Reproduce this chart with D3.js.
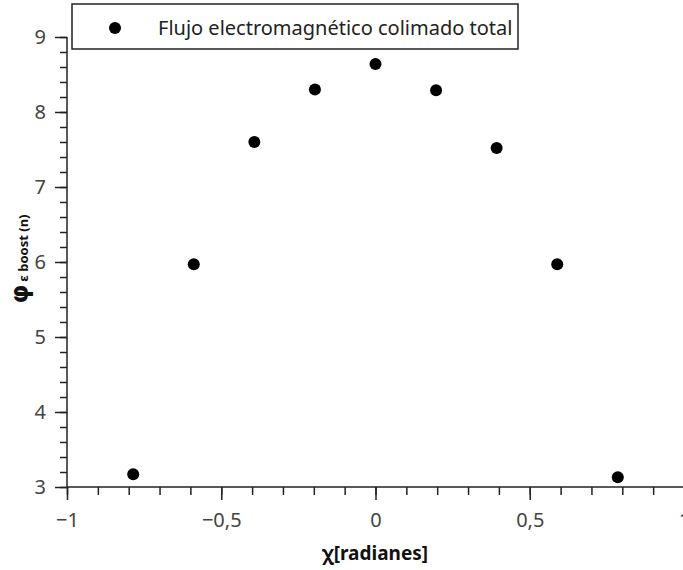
<!DOCTYPE html>
<html>
<head>
<meta charset="utf-8">
<script src="https://cdn.jsdelivr.net/npm/d3@7"></script>
<style>
  body { margin: 0; background: #fff; }
  text { font-family: "Noto Sans", "Open Sans", sans-serif; }
</style>
</head>
<body>
<svg id="chart" width="683" height="570"></svg>
<script>
// Data: x in steps of pi/16
const xValues = [-4, -3, -2, -1, 0, 1, 2, 3, 4].map(k => k * Math.PI / 16);
const yValues = [3.17, 5.97, 7.60, 8.30, 8.64, 8.29, 7.52, 5.97, 3.13];
const xTickValues = [-1, -0.5, 0, 0.5, 1];
const yTickValues = [3, 4, 5, 6, 7, 8, 9];
const seriesName = 'Flujo electromagnético colimado total';

const svg = d3.select('#chart');
const tickColor = '#444';

const x = d3.scaleLinear().domain([-1, 1]).range([67, 684]);
const y = d3.scaleLinear().domain([3, 9]).range([487, 37]);

const fmt = d => d3.format('')(d).replace('-', '\u2212').replace('.', ',');

// minor ticks first, then the major ones on top
const xMinor = d3.range(-10, 11).map(i => i / 10);
const yMinor = d3.range(15, 46).map(i => i / 5);

const xAxisG = svg.append('g').attr('transform', `translate(0,${y(3)})`);
xAxisG.call(d3.axisBottom(x).tickValues(xMinor).tickSize(8).tickFormat(''));
xAxisG.selectAll('.tick line').attr('stroke', '#222').attr('stroke-width', 1.5);
xAxisG.select('.domain').attr('stroke', '#222').attr('stroke-width', 1.5).attr('d', `M${x(-1)},0H${683}`);
const xMajorG = svg.append('g').attr('transform', `translate(0,${y(3)})`);
xMajorG.call(d3.axisBottom(x).tickValues(xTickValues).tickSize(13).tickPadding(13).tickFormat(fmt));
xMajorG.select('.domain').remove();
xMajorG.selectAll('.tick line').attr('stroke', '#222').attr('stroke-width', 1.5);
xMajorG.selectAll('.tick text').attr('fill', tickColor).style('font-size', '20px');

const yAxisG = svg.append('g').attr('transform', `translate(${x(-1)},0)`);
yAxisG.call(d3.axisLeft(y).tickValues(yMinor).tickSize(7).tickFormat(''));
yAxisG.selectAll('.tick line').attr('stroke', '#222').attr('stroke-width', 1.5);
yAxisG.select('.domain').attr('stroke', '#222').attr('stroke-width', 1.5).attr('d', `M0,${y(9)}V${y(3)}`);
const yMajorG = svg.append('g').attr('transform', `translate(${x(-1)},0)`);
yMajorG.call(d3.axisLeft(y).tickValues(yTickValues).tickSize(12).tickPadding(9).tickFormat(fmt));
yMajorG.select('.domain').remove();
yMajorG.selectAll('.tick line').attr('stroke', '#222').attr('stroke-width', 1.5);
yMajorG.selectAll('.tick text').attr('fill', tickColor).style('font-size', '20px');

// points
svg.append('g')
  .selectAll('circle')
  .data(xValues.map((v, i) => ({ x: v, y: yValues[i] })))
  .join('circle')
  .attr('cx', d => x(d.x))
  .attr('cy', d => y(d.y))
  .attr('r', 6)
  .attr('fill', '#000');

// axis titles
svg.append('text')
  .attr('x', 375)
  .attr('y', 560)
  .attr('text-anchor', 'middle')
  .style('font-size', '19px')
  .style('font-weight', 'bold')
  .attr('fill', '#111')
  .text('\u03c7[radianes]');

const yTitle = svg.append('text')
  .attr('transform', 'translate(28,259) rotate(-90)')
  .attr('text-anchor', 'middle')
  .attr('fill', '#111')
  .style('font-weight', 'bold');
yTitle.append('tspan').style('font-size', '24px').style('font-family', '"DejaVu Sans", sans-serif').text('\u03c6');
yTitle.append('tspan').style('font-size', '13px').attr('dx', 3).text('\u03b5 boost (n)');

// legend
const legend = svg.append('g');
legend.append('rect')
  .attr('x', 72).attr('y', 4)
  .attr('width', 446).attr('height', 45)
  .attr('fill', '#fff')
  .attr('stroke', '#222')
  .attr('stroke-width', 1.5);
legend.append('circle').attr('cx', 115).attr('cy', 28).attr('r', 6).attr('fill', '#000');
legend.append('text')
  .attr('x', 158).attr('y', 35)
  .style('font-size', '20px')
  .attr('fill', '#222')
  .text(seriesName);
</script>
</body>
</html>
